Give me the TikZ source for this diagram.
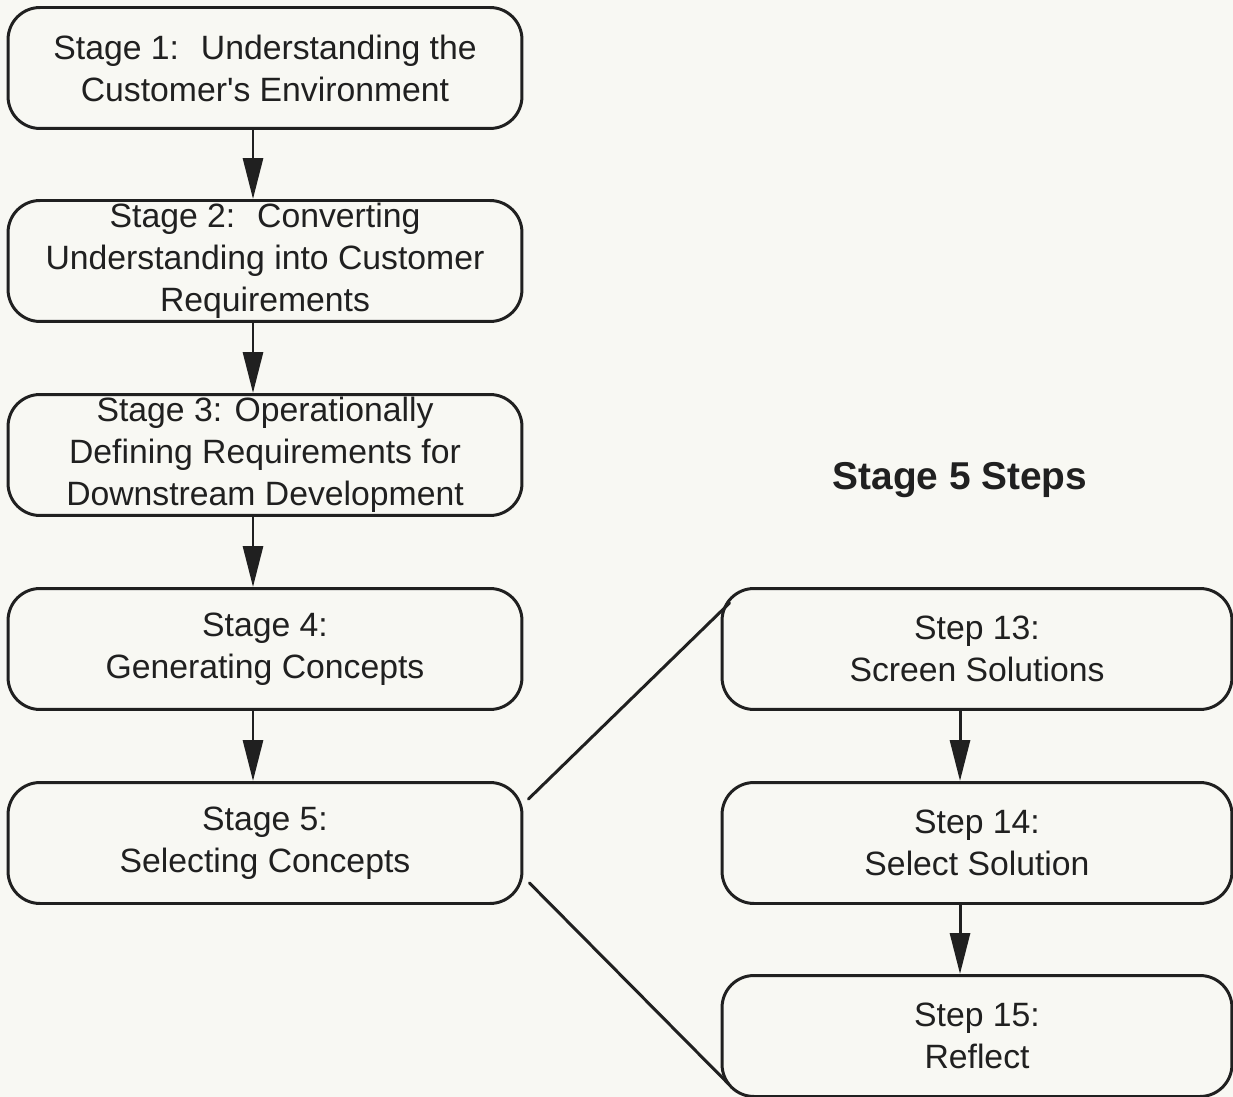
\documentclass[tikz,border=0pt]{standalone}
\usepackage{fontspec}
\setmainfont{Liberation Sans}[Ligatures=TeXOff]
\usetikzlibrary{arrows.meta}
\definecolor{paper}{RGB}{248,248,243}
\definecolor{ink}{RGB}{32,32,32}
\begin{document}
\begin{tikzpicture}[x=.02cm,y=-.02cm,line cap=round,
  stagebox/.style={draw=ink,line width=1.7pt,rounded corners=.64cm,align=center,
    inner sep=0pt,minimum width=10.28cm,minimum height=2.42cm,text=ink,
    font=\fontsize{19.2}{23.9}\selectfont},
  stepbox/.style={stagebox,minimum width=10.2cm},
  flow/.style={draw=ink,line width=1.7pt,-{Triangle[length=.82cm,width=.4cm]}},
  link/.style={draw=ink,line width=1.7pt}]
\fill[paper] (0,0) rectangle (1233,1097);
\useasboundingbox (0,0) rectangle (1233,1097);

\node[stagebox] (s1) at (265,68)  {Stage 1:~ Understanding the\\Customer's Environment};
\node[stagebox] (s2) at (265,261) {Stage 2:~ Converting\\Understanding into Customer\\Requirements};
\node[stagebox] (s3) at (265,455) {Stage 3: Operationally\\Defining Requirements for\\Downstream Development};
\node[stagebox] (s4) at (265,649) {Stage 4:\\Generating Concepts};
\node[stagebox] (s5) at (265,843) {Stage 5:\\Selecting Concepts};

\node[text=ink,font=\fontsize{22.1}{26}\selectfont\bfseries] (title) at (960,480) {Stage 5 Steps};

\node[stepbox] (st13) at (977,649)  {Step 13:\\Screen Solutions};
\node[stepbox] (st14) at (977,843)  {Step 14:\\Select Solution};
\node[stepbox] (st15) at (977,1036) {Step 15:\\Reflect};

\foreach \a/\b in {s1/s2,s2/s3,s3/s4,s4/s5} {
  \draw[flow] ([shift={(-12,0)}]\a.south) -- ([shift={(-12,0)}]\b.north);
}
\foreach \a/\b in {st13/st14,st14/st15} {
  \draw[flow] ([shift={(-17,0)}]\a.south) -- ([shift={(-17,0)}]\b.north);
}

% stage 5 opens into its steps
\draw[link] ([shift={(5,18)}]s5.north east) -- ([shift={(9,16)}]st13.north west);
\draw[link] ([shift={(6,-22)}]s5.south east) -- ([shift={(8,-14)}]st15.south west);
\end{tikzpicture}
\end{document}
